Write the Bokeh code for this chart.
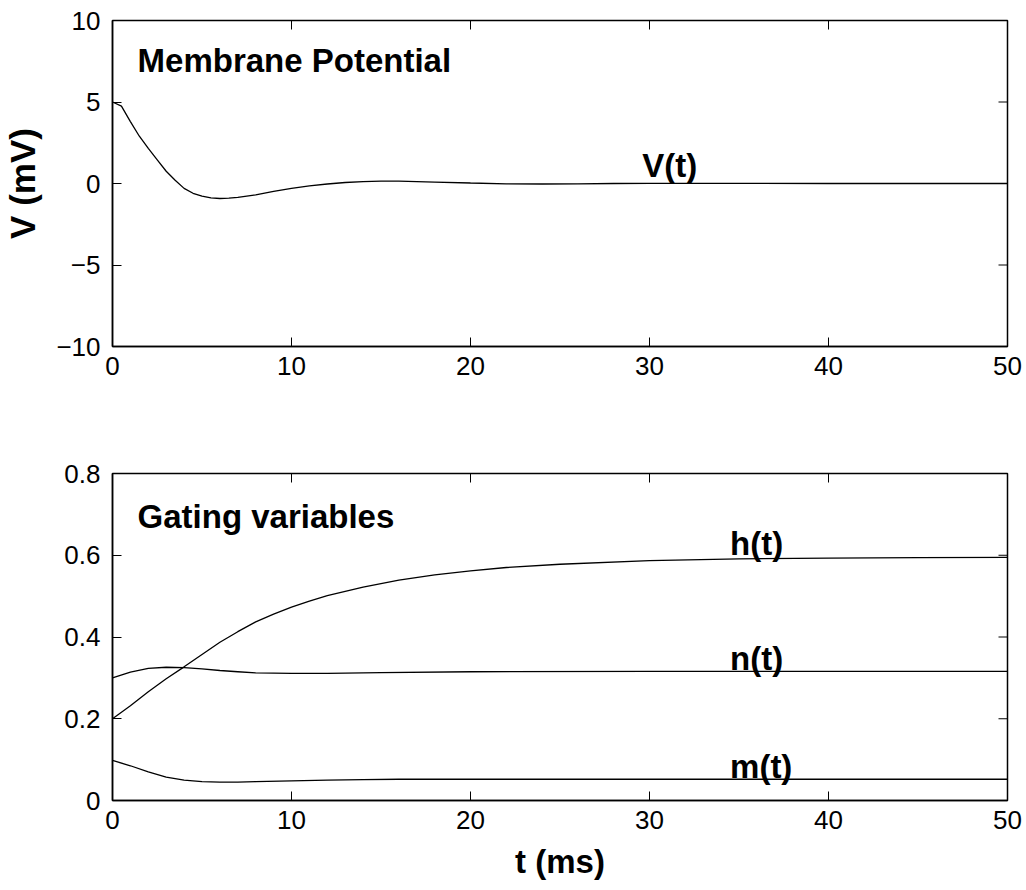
import math
from bokeh.plotting import figure
from bokeh.layouts import column
from bokeh.models import Range1d, FixedTicker
from bokeh.core.properties import value
from bokeh.embed import file_html
from bokeh.resources import INLINE

# ---- data ----
t_v = [0, 0.5, 1, 1.5, 2, 2.5, 3, 3.5, 4, 4.5, 5, 5.5, 6, 6.5, 7, 8, 9, 10, 11, 12,
       13, 14, 15, 16, 17, 18, 20, 22, 24, 26, 28, 30, 35, 40, 45, 50]
v_vals = [5.0, 4.75, 3.8, 2.9, 2.15, 1.45, 0.75, 0.2, -0.3, -0.6, -0.78, -0.88, -0.92,
          -0.9, -0.85, -0.7, -0.48, -0.3, -0.15, -0.03, 0.06, 0.11, 0.14, 0.14, 0.12,
          0.09, 0.03, -0.02, -0.03, -0.02, 0.0, 0.01, 0.01, 0.0, 0.0, 0.0]

t_h = [0, 1, 2, 3, 4, 5, 6, 7, 8, 9, 10, 11, 12, 14, 16, 18, 20, 22, 25, 30, 35, 40, 45, 50]
h_vals = [0.2, 0.232, 0.266, 0.298, 0.327, 0.357, 0.387, 0.413, 0.437, 0.456, 0.473,
          0.488, 0.501, 0.522, 0.539, 0.552, 0.562, 0.570, 0.578, 0.587, 0.591, 0.593,
          0.594, 0.595]

t_n = [0, 1, 2, 3, 4, 5, 6, 7, 8, 10, 12, 15, 20, 30, 40, 50]
n_vals = [0.300, 0.314, 0.323, 0.326, 0.325, 0.322, 0.318, 0.315, 0.312, 0.311, 0.311,
          0.313, 0.315, 0.316, 0.316, 0.316]

t_m = [0, 1, 2, 3, 4, 5, 6, 7, 8, 10, 12, 14, 16, 20, 30, 40, 50]
m_vals = [0.098, 0.085, 0.070, 0.057, 0.050, 0.046, 0.045, 0.045, 0.046, 0.048, 0.050,
          0.051, 0.052, 0.052, 0.052, 0.052, 0.052]

x_ticks = [0, 10, 20, 30, 40, 50]
v_ticks = [-10, -5, 0, 5, 10]
g_ticks = [0, 0.2, 0.4, 0.6, 0.8]

top_labels = ["Membrane Potential", "V(t)"]
top_label_x = [1.4, 29.6]
top_label_y = [7.55, 1.1]

bot_labels = ["Gating variables", "h(t)", "n(t)", "m(t)"]
bot_label_x = [1.4, 34.5, 34.5, 34.5]
bot_label_y = [0.695, 0.629, 0.347, 0.083]

FONT = "Liberation Sans"
TICK_SIZE = "26px"
LABEL_SIZE = "33px"


def style_axes(p, xr, yr, xt, yt):
    p.xgrid.visible = False
    p.ygrid.visible = False
    p.outline_line_color = "black"
    p.outline_line_width = 1.5
    p.background_fill_color = "white"
    p.border_fill_color = "white"
    ax_b = p.below[0]
    ax_l = p.left[0]
    for ax in (ax_b, ax_l):
        ax.major_tick_in = 9
        ax.major_tick_out = 0
        ax.minor_tick_line_color = None
        ax.axis_line_color = "black"
        ax.axis_line_width = 1.5
        ax.major_tick_line_width = 1
        ax.major_label_text_font = FONT
        ax.major_label_text_font_size = TICK_SIZE
        ax.major_label_text_color = "black"
        ax.axis_label_text_color = "black"
        ax.axis_label_text_font = FONT
        ax.axis_label_text_font_style = "bold"
    ax_b.major_label_standoff = 10
    ax_l.major_label_standoff = 12
    ax_b.ticker = FixedTicker(ticks=xt)
    ax_l.ticker = FixedTicker(ticks=yt)
    # mirrored inward ticks on top and right edges (box style)
    p.ray(x=xt, y=[yr[1]] * len(xt), length=9, length_units="screen",
          angle=-math.pi / 2, line_color="black", line_width=1)
    p.ray(x=[xr[1]] * len(yt), y=yt, length=9, length_units="screen",
          angle=math.pi, line_color="black", line_width=1)
    return ax_b, ax_l


p1 = figure(width=1026, height=420, output_backend="svg", toolbar_location=None,
            x_range=Range1d(0, 50), y_range=Range1d(-10, 10),
            min_border_left=112, min_border_right=19, min_border_top=20,
            min_border_bottom=74)
b1, l1 = style_axes(p1, (0, 50), (-10, 10), x_ticks, v_ticks)
l1.major_label_overrides = {-10: "\u221210", -5: "\u22125"}
l1.axis_label = "V (mV)"
l1.axis_label_text_font_size = "35px"
l1.axis_label_standoff = 11
p1.line(t_v, v_vals, line_color="black", line_width=1.3)
p1.text(x=top_label_x, y=top_label_y, text=top_labels, text_font=value(FONT),
        text_font_style="bold", text_font_size=value(LABEL_SIZE),
        text_baseline="alphabetic", text_align="left", text_color="black")

p2 = figure(width=1026, height=470, output_backend="svg", toolbar_location=None,
            x_range=Range1d(0, 50), y_range=Range1d(0, 0.8),
            min_border_left=112, min_border_right=19, min_border_top=53,
            min_border_bottom=90)
b2, l2 = style_axes(p2, (0, 50), (0, 0.8), x_ticks, g_ticks)
l2.major_label_overrides = {0: "0", 0.2: "0.2", 0.4: "0.4", 0.6: "0.6", 0.8: "0.8"}
b2.axis_label = "t (ms)"
b2.axis_label_text_font_size = LABEL_SIZE
b2.axis_label_standoff = 11
for tt, yy in [(t_h, h_vals), (t_n, n_vals), (t_m, m_vals)]:
    p2.line(tt, yy, line_color="black", line_width=1.3)
p2.text(x=bot_label_x, y=bot_label_y, text=bot_labels, text_font=value(FONT),
        text_font_style="bold", text_font_size=value(LABEL_SIZE),
        text_baseline="alphabetic", text_align="left", text_color="black")

layout = column(p1, p2, spacing=0)
open("out.html", "w").write(file_html(layout, INLINE))
